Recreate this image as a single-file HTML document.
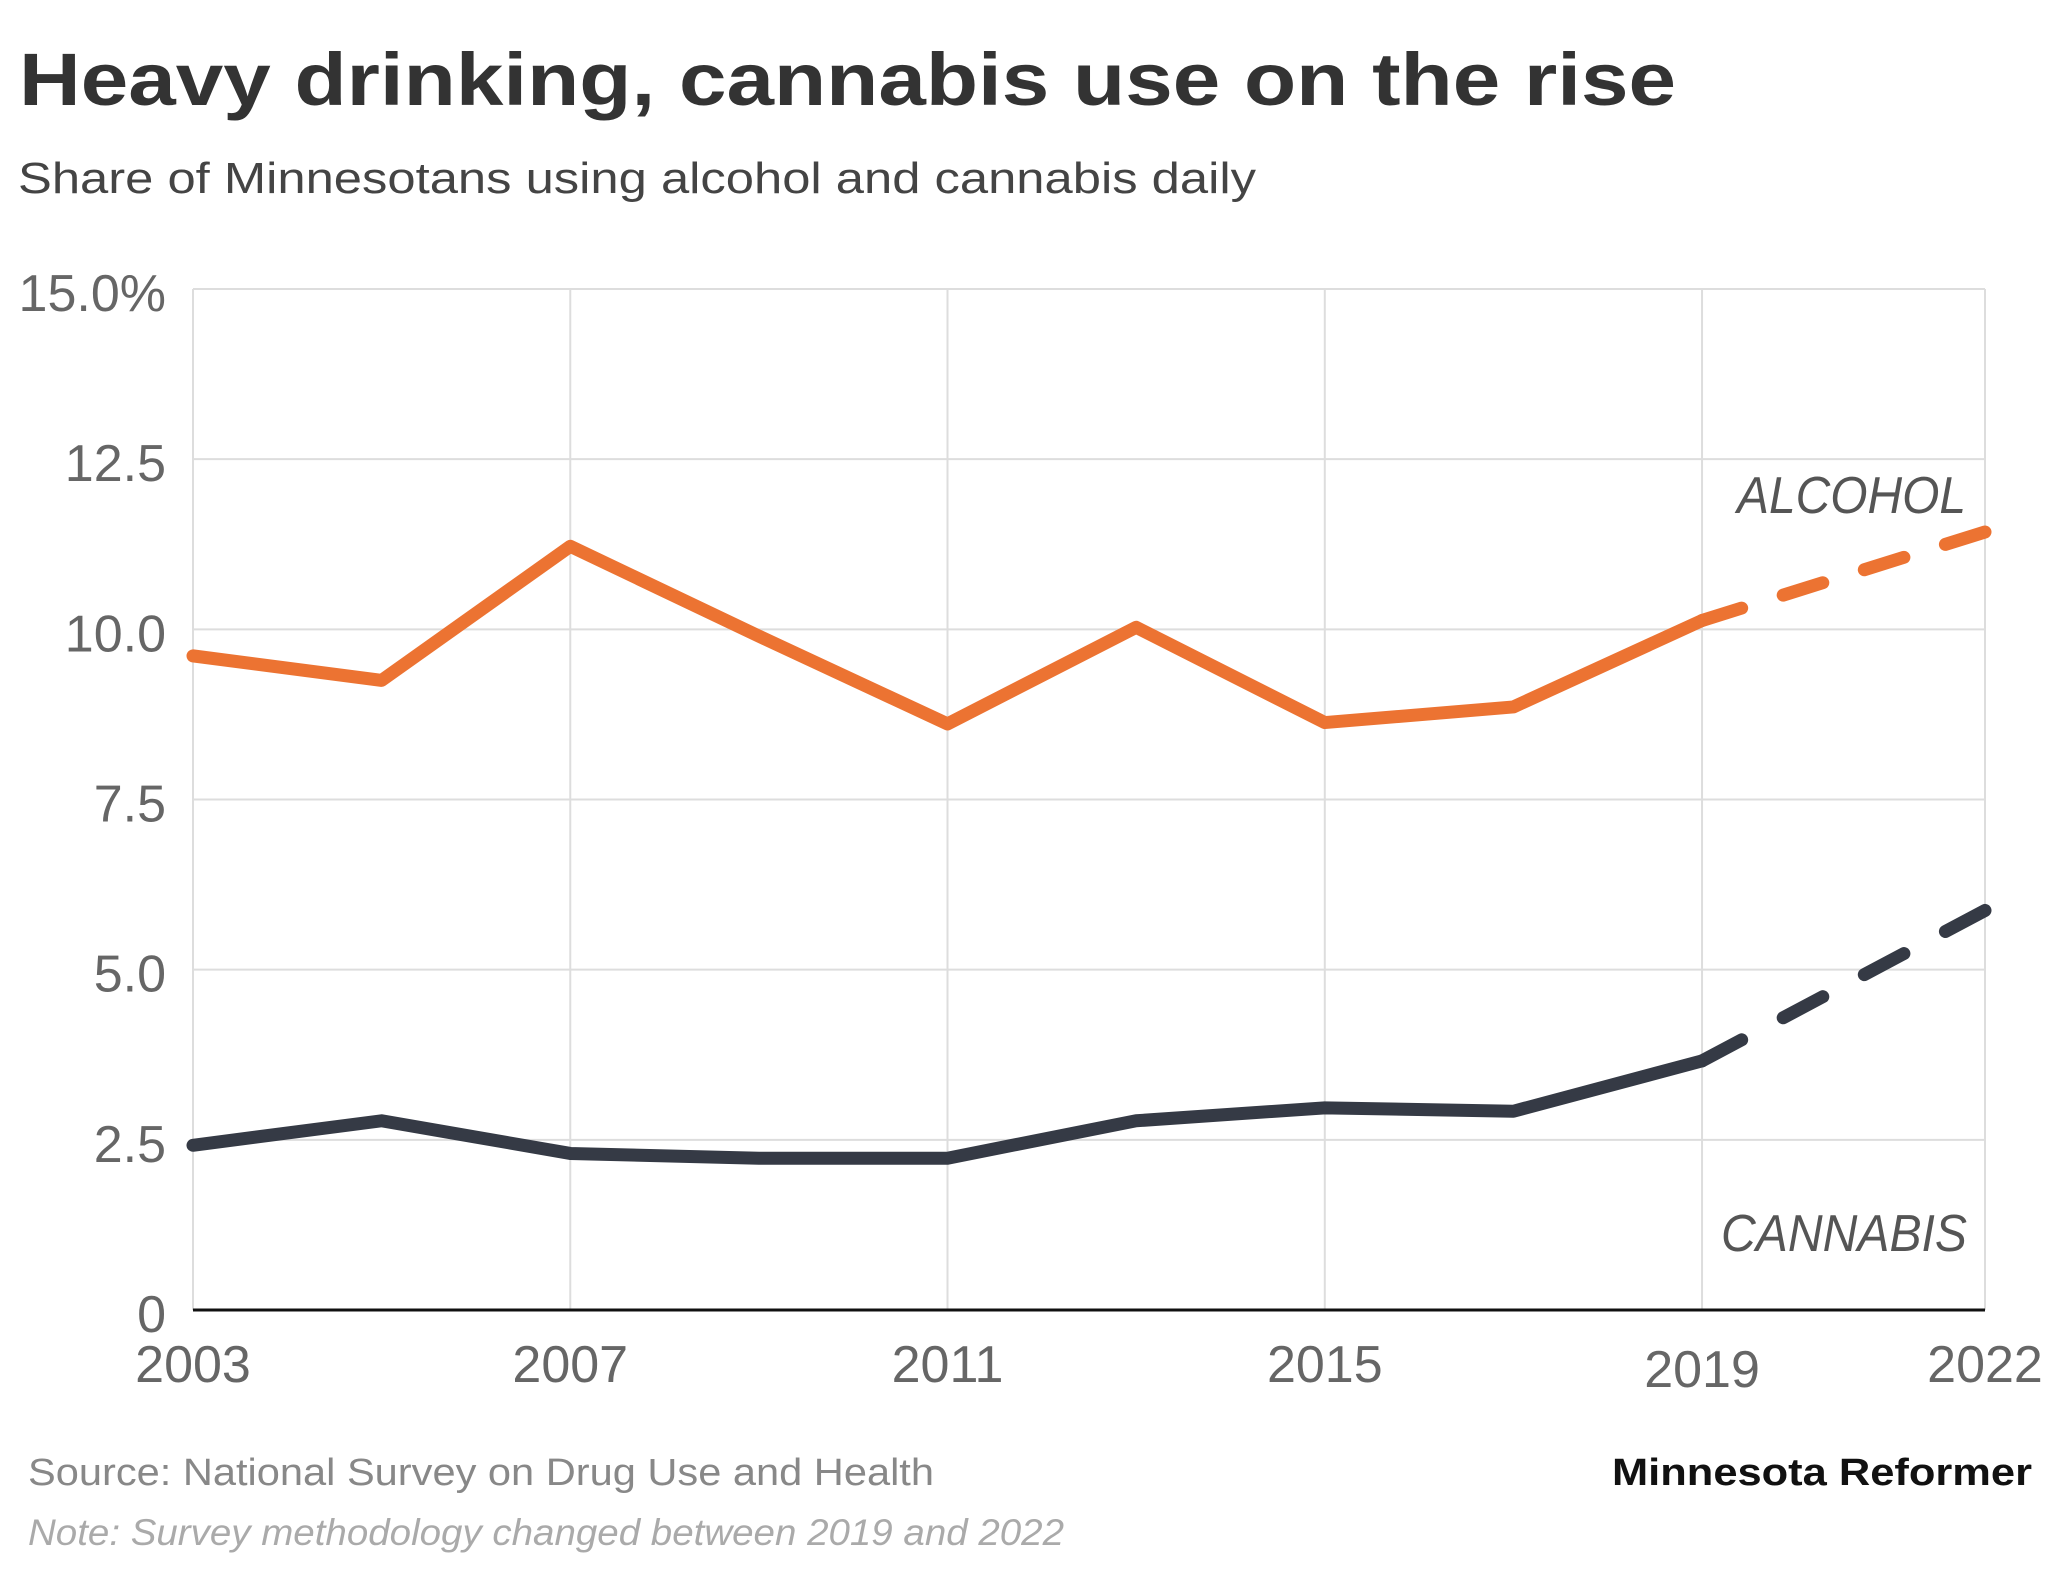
<!DOCTYPE html>
<html><head><meta charset="utf-8"><style>
html,body{margin:0;padding:0;background:#fff;}
svg{display:block;font-family:"Liberation Sans",sans-serif;}
</style></head><body>
<svg id="chart" width="2048" height="1569" viewBox="0 0 2048 1569">
<text x="19" y="105" font-size="74" font-weight="bold" fill="#333" textLength="1657" lengthAdjust="spacingAndGlyphs">Heavy drinking, cannabis use on the rise</text>
<text x="18" y="193" font-size="44" fill="#444" textLength="1238" lengthAdjust="spacingAndGlyphs">Share of Minnesotans using alcohol and cannabis daily</text>
<g id="grid"></g>
<g id="lines"></g>
<text x="1966" y="513" font-size="52" font-style="italic" fill="#555" text-anchor="end" textLength="229" lengthAdjust="spacingAndGlyphs">ALCOHOL</text>
<text x="1967" y="1251" font-size="52" font-style="italic" fill="#555" text-anchor="end" textLength="246" lengthAdjust="spacingAndGlyphs">CANNABIS</text>
<text x="28" y="1485" font-size="38" fill="#888" textLength="906" lengthAdjust="spacingAndGlyphs">Source: National Survey on Drug Use and Health</text>
<text x="28" y="1545" font-size="37" font-style="italic" fill="#aaa" textLength="1036" lengthAdjust="spacingAndGlyphs">Note: Survey methodology changed between 2019 and 2022</text>
<text x="2032" y="1485" font-size="38" font-weight="bold" fill="#111" text-anchor="end" textLength="420" lengthAdjust="spacingAndGlyphs">Minnesota Reformer</text>
</svg>
<script>
const years = [2003,2005,2007,2009,2011,2013,2015,2017,2019,2022];
const alcohol = [9.61,9.25,11.22,9.9,8.61,10.03,8.63,8.86,10.13,11.43];
const cannabis = [2.42,2.78,2.3,2.23,2.23,2.78,2.97,2.92,3.66,5.87];
const yTicks = [0,2.5,5,7.5,10,12.5,15];
const yTickLabels = ["0","2.5","5.0","7.5","10.0","12.5","15.0%"];
const xTicks = [2003,2007,2011,2015,2019,2022];

const NS="http://www.w3.org/2000/svg";
const x0=193,x1=1985,y0=1310,y1=289;
const xs=v=>x0+(v-2003)/(2022-2003)*(x1-x0);
const ys=v=>y0-(v/15)*(y0-y1);
const grid=document.getElementById('grid'), lines=document.getElementById('lines');
function mk(tag,attrs,parent){const e=document.createElementNS(NS,tag);for(const k in attrs)e.setAttribute(k,attrs[k]);parent.appendChild(e);return e;}

yTicks.forEach((t,i)=>{
  if(t>0){const l=mk('line',{x1:x0,x2:x1,y1:ys(t),y2:ys(t),stroke:'#ddd','stroke-width':2},grid);
  
  }
  const tx=mk('text',{x:166,y:ys(t)+22,'font-size':52,fill:'#666','text-anchor':'end'},grid);
  tx.textContent=yTickLabels[i];
  
  
});
xTicks.forEach(t=>{
  const l=mk('line',{x1:xs(t),x2:xs(t),y1:y1,y2:y0,stroke:'#ddd','stroke-width':2},grid);
  
  
  const tx=mk('text',{x:xs(t),y:t===2019?1387:1382,'font-size':52,fill:'#666','text-anchor':'middle'},grid);
  tx.textContent=t;
  
  
});
const ax=mk('line',{x1:x0,x2:x1,y1:y0,y2:y0,stroke:'#111','stroke-width':3},grid);



function series(vals,color,name){
  const n=vals.length;
  const solid=vals.slice(0,n-1).map((v,i)=>xs(years[i])+','+ys(v)).join(' ');
  const p=mk('polyline',{points:solid,fill:'none',stroke:color,'stroke-width':13,'stroke-linejoin':'round','stroke-linecap':'round'},lines);
  
  
  const d=mk('line',{x1:xs(years[n-2]),y1:ys(vals[n-2]),x2:xs(years[n-1]),y2:ys(vals[n-1]),stroke:color,'stroke-width':13,pathLength:100,'stroke-dasharray':'14 14.67','stroke-linecap':'round'},lines);
  
  
}
series(alcohol,'#ec7332','alcohol');
series(cannabis,'#353a45','cannabis');
</script>
</body></html>
